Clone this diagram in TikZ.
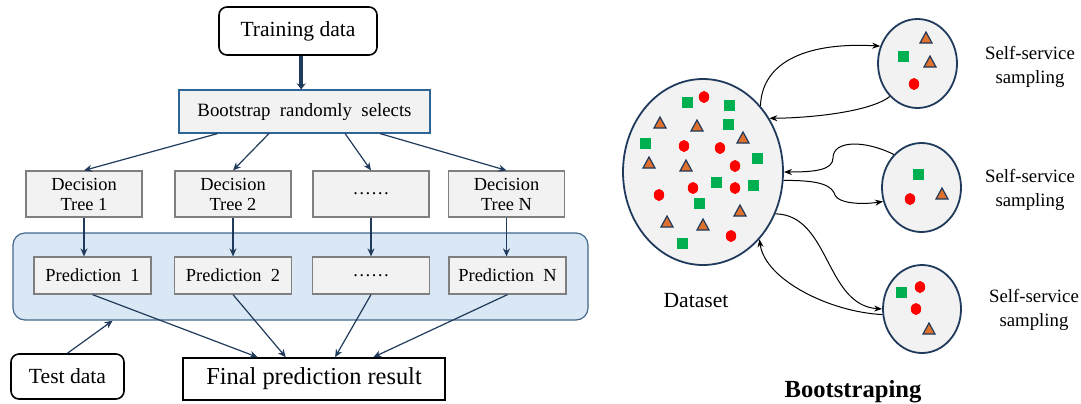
\documentclass[tikz,border=0pt]{standalone}
\usepackage{fontspec}
\setmainfont{Liberation Serif}
\usetikzlibrary{arrows.meta,shapes.geometric,calc}

\definecolor{boxgray}{HTML}{F2F2F2}
\definecolor{edgegray}{HTML}{7F7F7F}
\definecolor{navy}{HTML}{1F3A5A}
\definecolor{bootblue}{HTML}{2E6496}
\definecolor{panelblue}{HTML}{DAE7F4}
\definecolor{paneledge}{HTML}{41698C}
\definecolor{dotgreen}{HTML}{00B050}
\definecolor{dotred}{HTML}{FF0000}
\definecolor{triorange}{HTML}{E0702E}

\tikzset{
  graybox/.style={draw=edgegray, fill=boxgray, line width=0.6pt, inner sep=0pt,
    align=center, font=\fontsize{9.2}{10}\selectfont},
  termbox/.style={draw=black, fill=white, line width=0.8pt, rounded corners=4pt,
    inner sep=0pt, font=\fontsize{10.8}{13}\selectfont},
  flow/.style={-{Stealth[length=4pt,width=3.5pt]}, draw=navy, line width=0.6pt},
  conn/.style={-{Stealth[length=4pt,width=3pt]}, line width=0.5pt},
  pool/.style={ellipse, draw=navy, fill=boxgray, line width=0.9pt, inner sep=0pt},
  tag/.style={align=center, font=\fontsize{9.4}{12}\selectfont}
}

\begin{document}
\begin{tikzpicture}[x=0.5pt, y=-0.5pt]
  \useasboundingbox (0,0) rectangle (1081,403);

  % random forest flow
  \node [draw=paneledge, fill=panelblue, line width=0.6pt, rounded corners=6pt,
    minimum width=287.5pt, minimum height=43.5pt] (panel) at (300.5,276.5) {};
  \node [termbox, minimum width=79pt, minimum height=24pt] (train) at (298,31) {Training data};
  \node [graybox, draw=bootblue, minimum width=125.5pt, minimum height=21.5pt,
    font=\fontsize{9.4}{11}\selectfont] (boot) at (304.5,111.5) {Bootstrap~~randomly~~selects};

  \node [graybox, minimum width=58pt, minimum height=23pt] (dt1) at (84,194) {Decision\\Tree 1};
  \node [graybox, minimum width=58pt, minimum height=23pt] (dt2) at (233,194) {Decision\\Tree 2};
  \node [graybox, minimum width=58pt, minimum height=23pt] (dt3) at (371,194) {……};
  \node [graybox, minimum width=58pt, minimum height=23pt] (dt4) at (506.5,194) {Decision\\Tree N};

  \node [graybox, minimum width=58.5pt, minimum height=18.5pt] (pr1) at (92.5,275.5) {Prediction~~1};
  \node [graybox, minimum width=58.5pt, minimum height=18.5pt] (pr2) at (233,275.5) {Prediction~~2};
  \node [graybox, minimum width=58.5pt, minimum height=18.5pt] (pr3) at (371,275.5) {……};
  \node [graybox, minimum width=58.5pt, minimum height=18.5pt] (pr4) at (507.5,275.5) {Prediction~~N};

  \node [termbox, rounded corners=0pt, minimum width=131pt, minimum height=21pt,
    font=\fontsize{12.2}{14}\selectfont] (final) at (314,379) {Final prediction result};
  \node [termbox, minimum width=56.5pt, minimum height=22.5pt] (test) at (67.5,376.5) {Test data};

  \coordinate (feed) at ($(train.south west)!0.52!(train.south east)$);
  \draw [-{Stealth[length=3pt,width=4.5pt]}, line width=2pt, draw=navy]
    (feed) -- (feed |- boot.north);
  \foreach \f/\i in {0.155/1, 0.359/2, 0.661/3, 0.80/4}
    \draw [flow] ($(boot.south west)!\f!(boot.south east)$) -- (dt\i.north);
  \foreach \i in {1,...,4}
    \draw [flow] (dt\i.south) -- (dt\i.south |- pr\i.north);
  \foreach \i/\f in {1/0.286, 2/0.393, 3/0.58, 4/0.725}
    \draw [flow] (pr\i.south) -- ($(final.north west)!\f!(final.north east)$);
  \draw [flow] (test.north) -- ($(panel.south west)!0.174!(panel.south east)$);

  % bootstrap sampling
  \node [pool, minimum width=80pt, minimum height=93pt] (data) at (703,172) {};
  \node [pool, minimum width=39.5pt, minimum height=44.5pt] (s1) at (917.5,63.5) {};
  \node [pool, minimum width=39.5pt, minimum height=44.5pt] (s2) at (921.5,187.5) {};
  \node [pool, minimum width=39pt, minimum height=44pt] (s3) at (922,309) {};

  \foreach \x/\y in {687/102, 729/105, 728/124, 645/143, 757/158, 716/182, 753/185,
      699/203, 682/243, 903/56, 918/174, 901/292}
    \fill [dotgreen] (\x-5.5,\y-5.5) rectangle (\x+5.5,\y+5.5);
  \foreach \x/\y in {704/97, 684/146, 720/148, 735/166, 693/188, 735/188, 659/195,
      731/236, 914/84, 910/199, 920/287, 916/309}
    \fill [dotred] (\x,\y) ellipse [x radius=2.6pt, y radius=3pt];
  \foreach \x/\y in {660/123, 697/126, 743/138, 649/163, 686/166, 740/211, 667/222,
      703/225, 926/38, 930/62, 942/194, 929/329}
    \filldraw [fill=triorange, draw=navy, line width=0.6pt]
      (\x-6,\y+5) -- (\x+6,\y+5) -- (\x,\y-6) -- cycle;

  \draw [conn] (data.49) .. controls (762,60) and (810,42) .. (s1.155);
  \draw [conn] (s1.230) .. controls (870,112) and (810,118) .. (data.39);
  \draw [conn] (s2.130) .. controls (865,140) and (833,140) .. (833,158)
    .. controls (833,170) and (815,172) .. (data.0);
  \draw [conn] (data.354) .. controls (822,180) and (832,186) .. (835,195)
    .. controls (838,203) and (860,205) .. (s2.200);
  \draw [conn] (data.330) .. controls (830,215) and (825,305) .. (s3.180);
  \draw [conn] (s3.188) .. controls (830,312) and (765,280) .. (data.310);

  \node [tag] (lab1) at (1030,67) {Self-service\\sampling};
  \node [tag] (lab2) at (1030,190) {Self-service\\sampling};
  \node [tag] (lab3) at (1034,310) {Self-service\\sampling};
  \node [font=\fontsize{10.8}{13}\selectfont] (dname) at (696,301) {Dataset};
  \node [anchor=base, font=\fontsize{12.3}{14}\selectfont\bfseries] (title) at (853,397) {Bootstraping};
\end{tikzpicture}
\end{document}
